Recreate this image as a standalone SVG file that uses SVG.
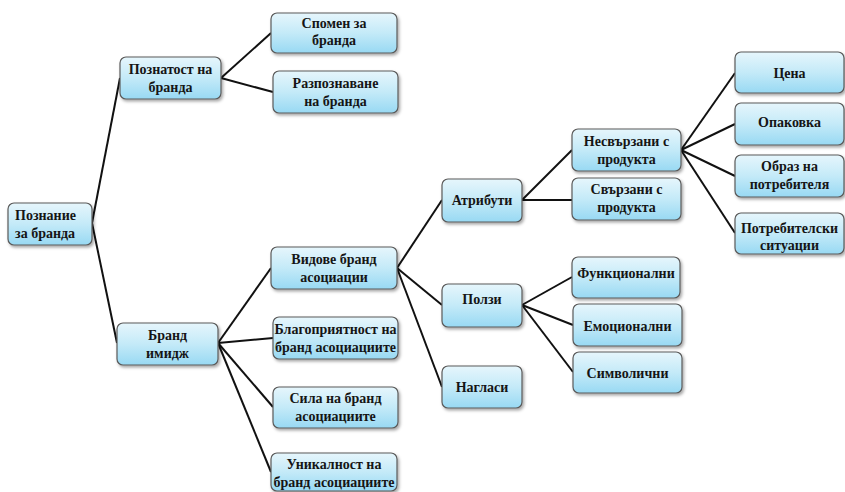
<svg xmlns="http://www.w3.org/2000/svg" width="845" height="492" viewBox="0 0 845 492">
<defs>
<linearGradient id="g" x1="0" y1="0" x2="0" y2="1">
<stop offset="0" stop-color="#e6f6fc"/>
<stop offset="0.5" stop-color="#c4eaf8"/>
<stop offset="1" stop-color="#98d9f3"/>
</linearGradient>
<filter id="sh" x="-10%" y="-10%" width="125%" height="140%">
<feDropShadow dx="1.5" dy="2" stdDeviation="1.5" flood-color="#000" flood-opacity="0.35"/>
</filter>
</defs>
<style>
.n rect{fill:url(#g);stroke:#5a5a5a;stroke-width:1.2;filter:url(#sh)}
.n text{font-family:'Liberation Serif','Times New Roman',serif;font-weight:bold;font-size:14px;fill:#151515;text-anchor:middle}
#c line{stroke:#111;stroke-width:2}
</style>
<rect width="845" height="492" fill="#fff"/>
<g id="c">
<line x1="92" y1="223" x2="120" y2="78"/>
<line x1="92" y1="223" x2="117" y2="343"/>
<line x1="221" y1="78" x2="271" y2="33"/>
<line x1="221" y1="78" x2="273" y2="92"/>
<line x1="218" y1="343" x2="271" y2="268"/>
<line x1="218" y1="343" x2="273" y2="338"/>
<line x1="218" y1="343" x2="273" y2="407"/>
<line x1="218" y1="343" x2="271" y2="472"/>
<line x1="397" y1="268" x2="442" y2="200"/>
<line x1="397" y1="268" x2="442" y2="305"/>
<line x1="397" y1="268" x2="442" y2="387"/>
<line x1="522" y1="200" x2="572" y2="150"/>
<line x1="522" y1="200" x2="572" y2="200"/>
<line x1="681" y1="150" x2="735" y2="73"/>
<line x1="681" y1="150" x2="735" y2="124"/>
<line x1="681" y1="150" x2="735" y2="176"/>
<line x1="681" y1="150" x2="735" y2="233"/>
<line x1="522" y1="305" x2="572" y2="277"/>
<line x1="522" y1="305" x2="573" y2="325"/>
<line x1="522" y1="305" x2="573" y2="372"/>
</g>
<g id="n-poznanie" class="n"><rect x="8" y="203" width="84" height="42" rx="6"/><text x="15" y="220" style="text-anchor:start">Познание</text><text x="15" y="238" style="text-anchor:start">за бранда</text></g>
<g id="n-poznatost" class="n"><rect x="120" y="57" width="101" height="42" rx="6"/><text x="170.5" y="74">Познатост на</text><text x="170.5" y="92">бранда</text></g>
<g id="n-spomen" class="n"><rect x="271" y="13" width="126" height="40" rx="6"/><text x="334" y="28">Спомен за</text><text x="334" y="45">бранда</text></g>
<g id="n-razpoznavane" class="n"><rect x="273" y="71" width="125" height="42" rx="6"/><text x="335.5" y="88">Разпознаване</text><text x="335.5" y="106">на бранда</text></g>
<g id="n-brand-imidzh" class="n"><rect x="117" y="323" width="101" height="42" rx="6"/><text x="167.5" y="340">Бранд</text><text x="167.5" y="358">имидж</text></g>
<g id="n-vidove" class="n"><rect x="271" y="247" width="126" height="42" rx="6"/><text x="334" y="264">Видове бранд</text><text x="334" y="282">асоциации</text></g>
<g id="n-blagopriyatnost" class="n"><rect x="273" y="317" width="125" height="42" rx="6"/><text x="335.5" y="334">Благоприятност на</text><text x="335.5" y="352">бранд асоциациите</text></g>
<g id="n-sila" class="n"><rect x="273" y="387" width="125" height="41" rx="6"/><text x="335.5" y="403">Сила на бранд</text><text x="335.5" y="421">асоциациите</text></g>
<g id="n-unikalnost" class="n"><rect x="271" y="453" width="126" height="38" rx="6"/><text x="334" y="469">Уникалност на</text><text x="334" y="487">бранд асоциациите</text></g>
<g id="n-atributi" class="n"><rect x="442" y="179" width="80" height="43" rx="6"/><text x="482" y="205">Атрибути</text></g>
<g id="n-polzi" class="n"><rect x="442" y="284" width="80" height="43" rx="6"/><text x="482" y="304">Ползи</text></g>
<g id="n-naglasi" class="n"><rect x="442" y="366" width="80" height="42" rx="6"/><text x="482" y="392">Нагласи</text></g>
<g id="n-nesvarzani" class="n"><rect x="572" y="129" width="109" height="42" rx="6"/><text x="626.5" y="146">Несвързани с</text><text x="626.5" y="164">продукта</text></g>
<g id="n-svarzani" class="n"><rect x="572" y="178" width="109" height="42" rx="6"/><text x="626.5" y="194">Свързани с</text><text x="626.5" y="212">продукта</text></g>
<g id="n-cena" class="n"><rect x="735" y="52" width="109" height="41" rx="6"/><text x="789.5" y="78">Цена</text></g>
<g id="n-opakovka" class="n"><rect x="735" y="103" width="109" height="42" rx="6"/><text x="789.5" y="127">Опаковка</text></g>
<g id="n-obraz" class="n"><rect x="735" y="155" width="109" height="42" rx="6"/><text x="789.5" y="171">Образ на</text><text x="789.5" y="189">потребителя</text></g>
<g id="n-potrebitelski" class="n"><rect x="735" y="213" width="109" height="41" rx="6"/><text x="789.5" y="233">Потребителски</text><text x="789.5" y="250">ситуации</text></g>
<g id="n-funkcionalni" class="n"><rect x="572" y="257" width="108" height="41" rx="6"/><text x="626" y="278">Функционални</text></g>
<g id="n-emocionalni" class="n"><rect x="573" y="304" width="109" height="42" rx="6"/><text x="627.5" y="331">Емоционални</text></g>
<g id="n-simvolichni" class="n"><rect x="573" y="352" width="109" height="41" rx="6"/><text x="627.5" y="378">Символични</text></g>
</svg>
